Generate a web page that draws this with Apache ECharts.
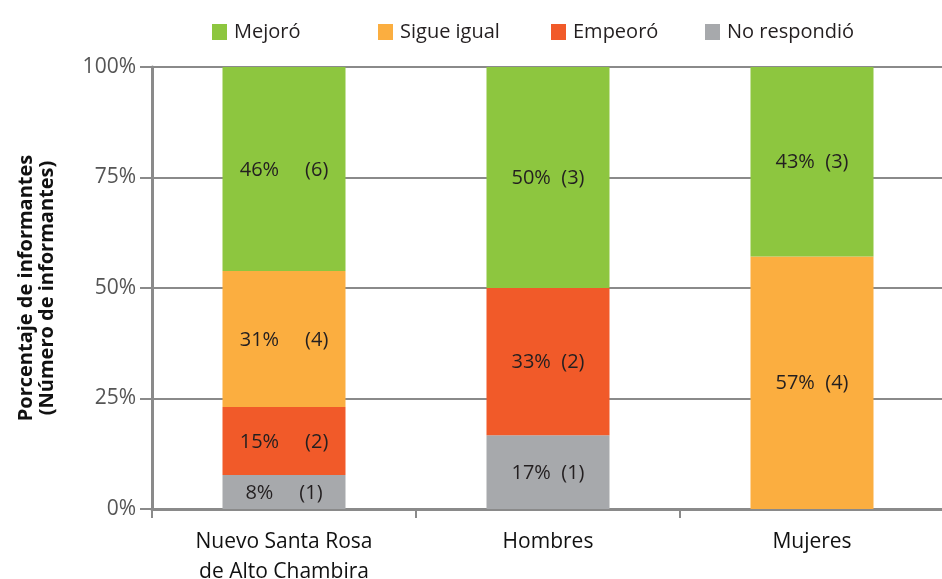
<!DOCTYPE html>
<html>
<head>
<meta charset="utf-8">
<script src="https://cdn.jsdelivr.net/npm/echarts@6/dist/echarts.min.js"></script>
<style>
  html, body { margin: 0; padding: 0; background: #fff; }
  #chart { width: 942px; height: 579px; }
</style>
</head>
<body>
<div id="chart"></div>
<script>
// datos
var categorias = ['Nuevo Santa Rosa\nde Alto Chambira', 'Hombres', 'Mujeres'];
var yTicks = ['0%', '25%', '50%', '75%', '100%'];

var noRespondio = [7.69, 16.67, 0];
var empeoro     = [15.38, 33.33, 0];
var sigueIgual  = [30.77, 0, 57.14];
var mejoro      = [46.15, 50, 42.86];

var nNoRespondio = [1, 1, 0];
var nEmpeoro     = [2, 2, 0];
var nSigueIgual  = [4, 0, 4];
var nMejoro      = [6, 3, 3];

var fuente = '"Open Sans", Lato, sans-serif';
var gris = '#8a8a8a';

function etiqueta(cuentas) {
    return {
        show: true,
        position: 'inside',
        offset: [0, 1],
        color: '#231f20',
        fontFamily: fuente,
        fontSize: 20,
        formatter: function (p) {
            if (!p.value) return '';
            var pct = Math.round(p.value) + '%';
            // primera barra: texto mas separado
            var sep = p.dataIndex === 0 ? '     ' : '  ';
            return pct + sep + '(' + cuentas[p.dataIndex] + ')';
        }
    };
}

function serie(nombre, datos, cuentas, color) {
    return {
        name: nombre,
        type: 'bar',
        stack: 'total',
        barWidth: 123,
        itemStyle: { color: color },
        label: etiqueta(cuentas),
        data: datos
    };
}

var chart = echarts.init(document.getElementById('chart'));

function leyenda(nombre, izq) {
    return {
        left: izq,
        top: 17,
        itemWidth: 15,
        itemHeight: 16,
        itemGap: 0,
        textStyle: { fontFamily: fuente, fontSize: 20, color: '#231f20', padding: [0, 0, 0, 2] },
        icon: 'rect',
        data: [nombre]
    };
}

var option = {
    animation: false,
    legend: [
        leyenda('Mejoró', 207),
        leyenda('Sigue igual', 373),
        leyenda('Empeoró', 546),
        leyenda('No respondió', 700)
    ],
    grid: { left: 152, right: -2, top: 67, bottom: 70, containLabel: false, outerBoundsMode: 'none' },
    xAxis: {
        type: 'category',
        data: categorias,
        axisLine: { lineStyle: { color: gris, width: 3 } },
        axisTick: { show: true, length: 9, lineStyle: { color: gris, width: 2 } },
        axisLabel: {
            color: '#111',
            fontFamily: fuente,
            fontSize: 21,
            lineHeight: 30,
            margin: 18
        }
    },
    yAxis: {
        type: 'value',
        min: 0,
        max: 100,
        interval: 25,
        name: 'Porcentaje de informantes\n(Número de informantes)',
        nameLocation: 'middle',
        nameGap: 94,
        nameTextStyle: {
            fontFamily: fuente,
            fontSize: 20,
            fontWeight: 'bold',
            color: '#111',
            lineHeight: 21
        },
        axisLine: { show: true, lineStyle: { color: gris, width: 3 } },
        axisTick: { show: true, length: 12, lineStyle: { color: gris, width: 2 } },
        splitLine: { lineStyle: { color: gris, width: 2 } },
        axisLabel: {
            color: '#555',
            fontFamily: fuente,
            fontSize: 21,
            margin: 16,
            formatter: function (v) { return yTicks[v / 25]; }
        }
    },
    series: [
        serie('No respondió', noRespondio, nNoRespondio, '#a7a9ac'),
        serie('Empeoró', empeoro, nEmpeoro, '#f15a29'),
        serie('Sigue igual', sigueIgual, nSigueIgual, '#fbae40'),
        serie('Mejoró', mejoro, nMejoro, '#8dc63f')
    ]
};
chart.setOption(option);
</script>
</body>
</html>
